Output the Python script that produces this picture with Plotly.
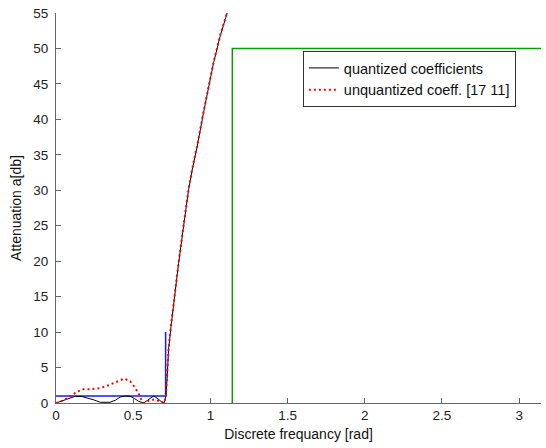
import numpy as np
import plotly.graph_objects as go

# Quantized coefficients response (black)
q_x = [0.0, 0.06, 0.125, 0.17, 0.21, 0.25, 0.287, 0.35, 0.385, 0.417, 0.45, 0.48, 0.51, 0.536, 0.568,
       0.60, 0.633, 0.66, 0.687, 0.700, 0.712, 0.72, 0.729, 0.745, 0.762, 0.794, 0.826, 0.859,
       0.885, 0.913, 0.956, 0.988, 1.021, 1.064, 1.109, 1.12]
q_y = [0.0, 0.45, 0.95, 0.9, 0.7, 0.4, 0.1, 0.1, 0.4, 0.85, 1.0, 0.95, 0.6, 0.24, 0.0,
       0.5, 1.0, 0.6, 0.1, 0.0, 1.0, 3.5, 7.5, 10.8, 14.1, 19.7, 24.9, 30.1,
       33.2, 36.0, 41.0, 44.3, 48.0, 51.8, 55.0, 55.8]

# Unquantized coefficients response (red dotted)
u_x = [0.0, 0.05, 0.114, 0.168, 0.22, 0.287, 0.34, 0.395, 0.442, 0.48, 0.514, 0.536, 0.557, 0.568,
       0.60, 0.64, 0.68, 0.702, 0.712, 0.72, 0.729, 0.745, 0.762, 0.794, 0.826, 0.859,
       0.885, 0.913, 0.956, 0.988, 1.021, 1.064, 1.109, 1.12]
u_y = [0.0, 0.38, 1.27, 1.93, 1.93, 2.1, 2.5, 3.0, 3.44, 3.07, 2.1, 1.27, 0.24, 0.0,
       0.3, 0.5, 0.2, 0.0, 1.2, 3.6, 7.6, 10.9, 14.2, 19.8, 25.0, 30.2,
       33.3, 36.1, 41.1, 44.4, 48.1, 51.9, 55.1, 55.9]

# Passband mask (blue)
pass_x = [0.0, 0.71, 0.71]
pass_y = [1.0, 1.0, 10.0]

# Stopband mask (green)
stop_x = [1.142, 1.142, np.pi]
stop_y = [0.0, 50.0, 50.0]

x_ticks = [0, 0.5, 1, 1.5, 2, 2.5, 3]
y_ticks = [0, 5, 10, 15, 20, 25, 30, 35, 40, 45, 50, 55]

fig = go.Figure()
fig.add_trace(go.Scatter(x=pass_x, y=pass_y, mode="lines", line=dict(color="#1a1aff", width=1.5),
                         showlegend=False, hoverinfo="skip"))
fig.add_trace(go.Scatter(x=stop_x, y=stop_y, mode="lines", line=dict(color="#00a000", width=1.5),
                         showlegend=False, hoverinfo="skip"))
fig.add_trace(go.Scatter(x=q_x, y=q_y, mode="lines", name="quantized coefficients",
                         line=dict(color="black", width=1)))
fig.add_trace(go.Scatter(x=u_x, y=u_y, mode="lines", name="unquantized coeff. [17 11]",
                         line=dict(color="red", width=2, dash="2px,3px")))

axis_common = dict(showline=True, linecolor="#666666", linewidth=1, ticks="inside", ticklen=5,
                   tickcolor="#666666", showgrid=False, zeroline=False, mirror=False, automargin=False,
                   tickfont=dict(family="Liberation Sans, Arial", size=13.5, color="#222222"))

fig.update_xaxes(range=[0, np.pi], tickvals=x_ticks,
                 title=dict(text="Discrete frequancy [rad]", standoff=6,
                            font=dict(family="Liberation Sans, Arial", size=14, color="#111111")),
                 **axis_common)
fig.update_yaxes(range=[0, 55], tickvals=y_ticks,
                 title=dict(text="Attenuation a[db]", standoff=8,
                            font=dict(family="Liberation Sans, Arial", size=14, color="#111111")),
                 ticklabelstandoff=4, **axis_common)

fig.update_layout(
    width=546, height=448,
    margin=dict(l=56, r=5, t=13, b=45),
    plot_bgcolor="white", paper_bgcolor="white",
    legend=dict(x=0.509, y=0.9026, xanchor="left", yanchor="top",
                bordercolor="#333333", borderwidth=1, bgcolor="white",
                font=dict(family="Liberation Sans, Arial", size=14.5, color="#111111")),
)

fig.write_html("out.html", config={"displayModeBar": False},
               post_script="document.body.style.margin='0';document.body.style.overflow='hidden';")
